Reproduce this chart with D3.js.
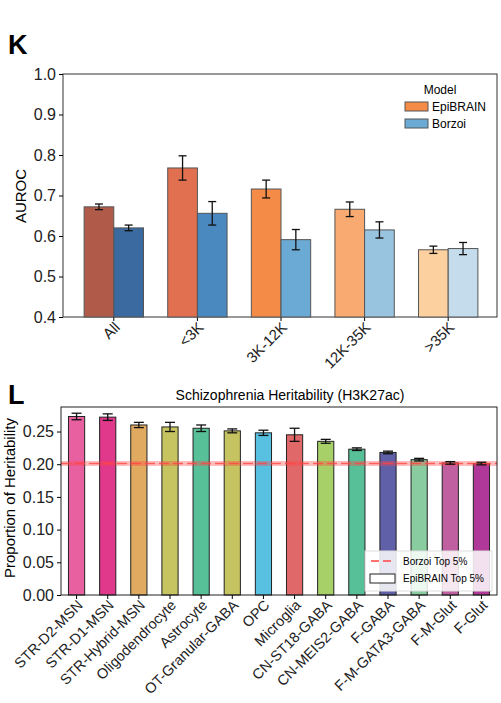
<!DOCTYPE html><html><head><meta charset="utf-8"><script src="https://cdn.jsdelivr.net/npm/d3@7"></script>
<style>body{margin:0;background:#fff}text{font-family:"Liberation Sans",Arial,sans-serif}</style></head><body>
<svg id="c" width="501" height="703"></svg>
<script>
const groups=["All","<3K","3K-12K","12K-35K",">35K"];
const epiVals=[0.672,0.768,0.716,0.666,0.566];
const epiErr=[0.007,0.030,0.022,0.018,0.009];
const borVals=[0.620,0.656,0.591,0.615,0.569];
const borErr=[0.007,0.029,0.025,0.020,0.015];
const epiColors=["#b05a4a","#e07050","#f48c48","#f8aa70","#fdd0a0"];
const borColors=["#3a6aa0","#4a88c0","#6aaad4","#98c4e0","#c4dcec"];
const kTicks=[0.4,0.5,0.6,0.7,0.8,0.9,1.0];
const cells=["STR-D2-MSN","STR-D1-MSN","STR-Hybrid-MSN","Oligodendrocyte","Astrocyte","OT-Granular-GABA","OPC","Microglia","CN-ST18-GABA","CN-MEIS2-GABA","F-GABA","F-M-GATA3-GABA","F-M-Glut","F-Glut"];
const herVals=[0.273,0.272,0.260,0.257,0.255,0.251,0.248,0.245,0.235,0.223,0.218,0.207,0.202,0.201];
const herErr=[0.005,0.005,0.004,0.007,0.005,0.003,0.004,0.010,0.003,0.002,0.002,0.002,0.002,0.002];
const cellColors=["#e860a0","#e0388a","#e0aa60","#c5c460","#58c098","#c5c460","#58c0e0","#e06868","#a8d068","#58c098","#6060a8","#88cca0","#c060a0","#b03898"];
const lTicks=[0,0.05,0.10,0.15,0.20,0.25];
const borzoiLine=0.201;

const svg=d3.select("#c");
svg.append("text").attr("x",8).attr("y",54).attr("font-size",27).attr("font-weight","bold").text("K");
svg.append("text").attr("x",8).attr("y",404).attr("font-size",27).attr("font-weight","bold").text("L");

// K
const kx=d3.scaleBand().domain(groups).range([72,490]).paddingInner(0.29).paddingOuter(0.145);
const ky=d3.scaleLinear().domain([0.4,1.0]).range([317,74]);
const sub=d3.scaleBand().domain([0,1]).range([0,kx.bandwidth()]);
const K=svg.append("g");
K.append("rect").attr("x",63).attr("y",74).attr("width",434).attr("height",243).attr("fill","none").attr("stroke","#333").attr("stroke-width",1);
const ka=K.append("g").attr("transform","translate(63,0)").call(d3.axisLeft(ky).tickValues(kTicks).tickFormat(d3.format(".1f")).tickSize(4));
ka.select(".domain").remove();ka.selectAll("text").attr("font-size",16).attr("fill","#222");
const kb=K.append("g").attr("transform","translate(0,317)").call(d3.axisBottom(kx).tickSize(4));
kb.select(".domain").remove();
kb.selectAll("text").attr("font-size",15).attr("fill","#222").attr("text-anchor","end").attr("transform","rotate(-45)").attr("dx","-0.2em").attr("dy","0.4em");
K.append("text").attr("transform","translate(26,196) rotate(-90)").attr("text-anchor","middle").attr("font-size",15).text("AUROC");
[[epiVals,epiErr,epiColors],[borVals,borErr,borColors]].forEach(([v,e,c],s)=>{
  groups.forEach((g,i)=>{
    const x=kx(g)+sub(s);
    K.append("rect").attr("x",x).attr("y",ky(v[i])).attr("width",sub.bandwidth()).attr("height",ky(0.4)-ky(v[i])).attr("fill",c[i]).attr("stroke","#555").attr("stroke-width",1);
    const cx=x+sub.bandwidth()/2;
    K.append("line").attr("x1",cx).attr("x2",cx).attr("y1",ky(v[i]-e[i])).attr("y2",ky(v[i]+e[i])).attr("stroke","#111").attr("stroke-width",1.3);
    [v[i]-e[i],v[i]+e[i]].forEach(t=>K.append("line").attr("x1",cx-4).attr("x2",cx+4).attr("y1",ky(t)).attr("y2",ky(t)).attr("stroke","#111").attr("stroke-width",1.3));
  });
});
K.append("text").attr("x",440).attr("y",94).attr("text-anchor","middle").attr("font-size",12).text("Model");
[["EpiBRAIN","#f48c48"],["Borzoi","#6aaad4"]].forEach(([t,c],i)=>{
  K.append("rect").attr("x",405).attr("y",102+i*17).attr("width",23).attr("height",9).attr("fill",c).attr("stroke","#555");
  K.append("text").attr("x",432).attr("y",111+i*17).attr("font-size",12).text(t);
});

// L
const lx=d3.scaleBand().domain(cells).range([61,497]).paddingInner(0.48).paddingOuter(0.24);
const ly=d3.scaleLinear().domain([0,0.2875]).range([595,407]);
const L=svg.append("g");
L.append("text").attr("x",290).attr("y",400).attr("text-anchor","middle").attr("font-size",14).text("Schizophrenia Heritability (H3K27ac)");
cells.forEach((c,i)=>{
  L.append("rect").attr("x",lx(c)).attr("y",ly(herVals[i])).attr("width",lx.bandwidth()).attr("height",ly(0)-ly(herVals[i])).attr("fill",cellColors[i]).attr("stroke","#222").attr("stroke-width",1);
});
L.append("line").attr("x1",61).attr("x2",497).attr("y1",ly(borzoiLine)).attr("y2",ly(borzoiLine)).attr("stroke","#f44").attr("stroke-opacity",0.35).attr("stroke-width",5);
L.append("line").attr("x1",61).attr("x2",497).attr("y1",ly(borzoiLine)).attr("y2",ly(borzoiLine)).attr("stroke","#f44").attr("stroke-opacity",0.8).attr("stroke-width",1.5).attr("stroke-dasharray","10,4");
cells.forEach((c,i)=>{
  const cx=lx(c)+lx.bandwidth()/2,lo=ly(herVals[i]-herErr[i]),hi=ly(herVals[i]+herErr[i]);
  L.append("line").attr("x1",cx).attr("x2",cx).attr("y1",lo).attr("y2",hi).attr("stroke","#111").attr("stroke-width",1.3);
  [lo,hi].forEach(t=>L.append("line").attr("x1",cx-5).attr("x2",cx+5).attr("y1",t).attr("y2",t).attr("stroke","#111").attr("stroke-width",1.3));
});
L.append("rect").attr("x",61).attr("y",407).attr("width",436).attr("height",188).attr("fill","none").attr("stroke","#222");
const la=L.append("g").attr("transform","translate(61,0)").call(d3.axisLeft(ly).tickValues(lTicks).tickFormat(d3.format(".2f")).tickSize(4));
la.select(".domain").remove();la.selectAll("text").attr("font-size",16).attr("fill","#222");
const lb=L.append("g").attr("transform","translate(0,595)").call(d3.axisBottom(lx).tickSize(4));
lb.select(".domain").remove();
lb.selectAll("text").attr("font-size",14.5).attr("fill","#222").attr("text-anchor","end").attr("transform","rotate(-45)").attr("dx","-0.2em").attr("dy","0.4em");
L.append("text").attr("transform","translate(15,498) rotate(-90)").attr("text-anchor","middle").attr("font-size",15).text("Proportion of Heritability");
const lg=L.append("g");
lg.append("rect").attr("x",365).attr("y",551).attr("width",127).attr("height",40).attr("fill","#fff").attr("fill-opacity",0.85).attr("stroke","#ddd");
lg.append("line").attr("x1",371).attr("x2",393).attr("y1",561).attr("y2",561).attr("stroke","#f44").attr("stroke-width",1.3).attr("stroke-dasharray","8,4");
lg.append("text").attr("x",403).attr("y",565).attr("font-size",10).text("Borzoi Top 5%");
lg.append("rect").attr("x",370).attr("y",574).attr("width",25).attr("height",9).attr("fill","#fff").attr("stroke","#222");
lg.append("text").attr("x",403).attr("y",582).attr("font-size",10).text("EpiBRAIN Top 5%");
</script></body></html>
